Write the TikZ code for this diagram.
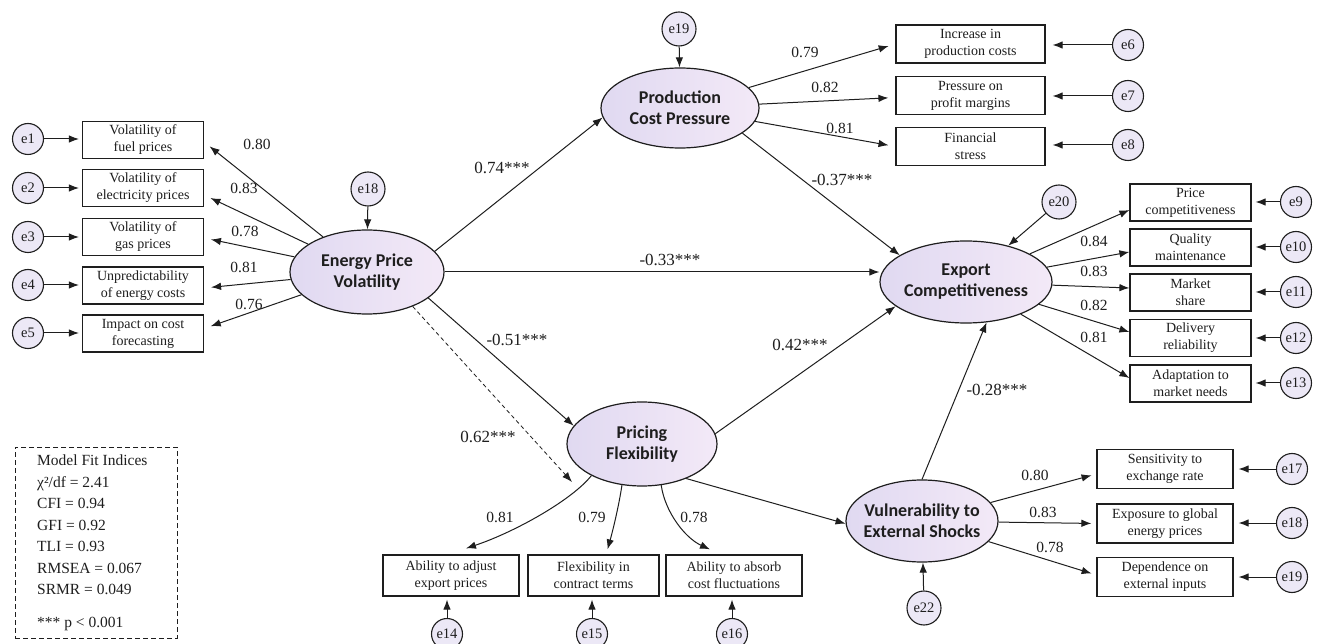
\documentclass[tikz,border=0pt]{standalone}
\usepackage{fontspec}
\setmainfont{Liberation Serif}
\newfontfamily\latfont{Carlito}
\usetikzlibrary{arrows.meta,shapes.geometric,calc}
\definecolor{lav}{RGB}{224,217,241}
\definecolor{lavR}{RGB}{243,233,247}
\definecolor{circfill}{RGB}{236,232,246}
\definecolor{ink}{RGB}{30,30,30}
\begin{document}
\begin{tikzpicture}[x=1pt,y=-1pt,
  ind/.style={draw=ink, line width=1.2pt, minimum width=121pt, minimum height=37pt, inner sep=0pt, align=center, text=ink, font=\fontsize{14}{17}\selectfont},
  err/.style={circle, draw=ink, line width=1.1pt, fill=circfill, minimum size=31pt, inner sep=0pt, text=ink, font=\fontsize{14.5}{16}\selectfont},
  latent/.style={ellipse, draw=ink, line width=1.2pt, left color=lav, right color=lavR, inner sep=0pt},
  lattext/.style={align=center, text=ink, font=\latfont\bfseries\fontsize{18}{21}\selectfont},
  arr/.style={-{Latex[length=10pt,width=7.5pt]}, line width=1pt, draw=ink},
  ld/.style={text=ink, font=\fontsize{15.5}{17}\selectfont},
  pc/.style={text=ink, font=\fontsize{17}{19}\selectfont},
]
\useasboundingbox[fill=white] (0,0) rectangle (1318,644);

% ---------- latent variables ----------
\node[latent, minimum width=154pt, minimum height=84pt] (EPV) at (367,272) {};
\node[lattext] (EPVt) at (EPV) {Energy Price\\Volatility};
\node[latent, minimum width=158pt, minimum height=80pt] (PCP) at (680,108) {};
\node[lattext] (PCPt) at (PCP) {Production\\Cost Pressure};
\node[latent, minimum width=172pt, minimum height=82pt] (EC) at (966,282) {};
\node[lattext] (ECt) at (EC) {Export\\Competitiveness};
\node[latent, minimum width=150pt, minimum height=84pt] (PF) at (642,444) {};
\node[lattext] (PFt) at (PF) {Pricing\\Flexibility};
\node[latent, minimum width=152pt, minimum height=82pt] (VES) at (922,521) {};
\node[lattext] (VESt) at (VES) {Vulnerability to\\External Shocks};

% ---------- structural residuals ----------
\node[err, minimum size=34pt] (z18) at (368,189) {e18};
\node[err, minimum size=34pt] (z19) at (679,29) {e19};
\node[err, minimum size=34pt] (z20) at (1059,202) {e20};
\node[err, minimum size=34pt] (z22) at (924,608) {e22};
\draw[arr] (z18) -- (EPV);
\draw[arr] (z19) -- (PCP);
\draw[arr] (z20) -- (EC);
\draw[arr] (z22) -- (VES);

% ---------- left indicators ----------
\node[ind] (b1) at (143,140) {Volatility of\\fuel prices};
\node[ind] (b2) at (143,188) {Volatility of\\electricity prices};
\node[ind] (b3) at (143,237) {Volatility of\\gas prices};
\node[ind] (b4) at (143,285.5) {Unpredictability\\of energy costs};
\node[ind] (b5) at (143,333.5) {Impact on cost\\forecasting};
\foreach \i/\y in {1/139,2/188,3/237,4/285,5/333}{
  \node[err] (e\i) at (28,\y) {e\i};
  \draw[arr, shorten >=3pt] (e\i) -- (e\i -| b\i.west);
}
\draw[arr, shorten >=7pt] (EPV) -- ($(b1.east)+(0,2)$);
\draw[arr, shorten >=7pt] (EPV) -- ($(b2.east)+(0,7)$);
\draw[arr, shorten >=7pt] (EPV) -- ($(b3.east)+(0,1)$);
\draw[arr, shorten >=7pt] (EPV) -- ($(b4.east)+(0,2.5)$);
\draw[arr, shorten >=7pt] (EPV) -- ($(b5.east)+(0,-5)$);
\node[ld] (l1) at (257,144) {0.80};
\node[ld] (l2) at (244,188) {0.83};
\node[ld] (l3) at (245,231) {0.78};
\node[ld] (l4) at (244,267) {0.81};
\node[ld] (l5) at (249,304) {0.76};

% ---------- production cost indicators ----------
\node[ind, minimum width=149pt, minimum height=38pt] (t1) at (970.5,44) {Increase in\\production costs};
\node[ind, minimum width=149pt, minimum height=38pt] (t2) at (970.5,95.5) {Pressure on\\profit margins};
\node[ind, minimum width=149pt, minimum height=38pt] (t3) at (970.5,146.5) {Financial\\stress};
\foreach \i/\y/\t in {6/45/t1,7/96/t2,8/145/t3}{
  \node[err] (e\i) at (1128,\y) {e\i};
  \draw[arr, shorten >=7pt] (e\i) -- (e\i -| \t.east);
}
\draw[arr, shorten >=7pt] (PCP) -- (t1.west);
\draw[arr, shorten >=7pt] (PCP) -- ($(t2.west)+(0,2)$);
\draw[arr, shorten >=7pt] (PCP) -- (t3.west);
\node[ld] (l6) at (805,52) {0.79};
\node[ld] (l7) at (825,87) {0.82};
\node[ld] (l8) at (840,128) {0.81};

% ---------- export competitiveness indicators ----------
\node[ind] (r1) at (1190.5,202.5) {Price\\competitiveness};
\node[ind] (r2) at (1190.5,247.5) {Quality\\maintenance};
\node[ind] (r3) at (1190.5,292.5) {Market\\share};
\node[ind] (r4) at (1190.5,338) {Delivery\\reliability};
\node[ind] (r5) at (1190.5,383.5) {Adaptation to\\market needs};
\foreach \i/\y/\t in {9/202/r1,10/247/r2,11/292/r3,12/338/r4,13/383/r5}{
  \node[err] (e\i) at (1296,\y) {e\i};
  \draw[arr, shorten >=4pt] (e\i) -- (e\i -| \t.east);
}
\draw[arr] (EC) -- ($(r1.west)+(0,7.5)$);
\draw[arr] (EC) -- ($(r2.west)+(0,4.5)$);
\draw[arr] (EC) -- ($(r3.west)+(0,-4.5)$);
\draw[arr] (EC) -- ($(r4.west)+(0,-6)$);
\draw[arr] (EC) -- ($(r5.west)+(0,-5.5)$);
\node[ld] (l9) at (1094,241) {0.84};
\node[ld] (l10) at (1094,271) {0.83};
\node[ld] (l11) at (1094,305) {0.82};
\node[ld] (l12) at (1094,337) {0.81};

% ---------- vulnerability indicators ----------
\node[ind, minimum width=136pt, minimum height=39pt] (v1) at (1165,469) {Sensitivity to\\exchange rate};
\node[ind, minimum width=136pt, minimum height=39pt] (v2) at (1165,523.5) {Exposure to global\\energy prices};
\node[ind, minimum width=136pt, minimum height=39pt] (v3) at (1165,577) {Dependence on\\external inputs};
\foreach \i/\y/\t in {17/469/v1,18/523/v2,19/577/v3}{
  \node[err] (e\i) at (1292,\y) {e\i};
  \draw[arr, shorten >=5pt] (e\i) -- (e\i -| \t.east);
}
\draw[arr, shorten >=5pt] (VES) -- ($(v1.west)+(0,5)$);
\draw[arr, shorten >=5pt] (VES) -- (v2.west);
\draw[arr, shorten >=5pt] (VES) -- ($(v3.west)+(0,-2)$);
\node[ld] (l17) at (1035,475) {0.80};
\node[ld] (l18) at (1043,512) {0.83};
\node[ld] (l19) at (1050,547) {0.78};

% ---------- pricing flexibility indicators ----------
\node[ind, minimum width=136pt, minimum height=41pt] (p1) at (451,575.5) {Ability to adjust\\export prices};
\node[ind, minimum width=131pt, minimum height=41pt] (p2) at (593.5,575.5) {Flexibility in\\contract terms};
\node[ind, minimum width=136pt, minimum height=41pt] (p3) at (734,575.5) {Ability to absorb\\cost fluctuations};
\node[err] (e14) at (447,634) {e14};
\node[err] (e15) at (592,634) {e15};
\node[err] (e16) at (732,634) {e16};
\draw[arr, shorten >=3pt] (e14) -- (e14 |- p1.south);
\draw[arr, shorten >=3pt] (e15) -- (e15 |- p2.south);
\draw[arr, shorten >=3pt] (e16) -- (e16 |- p3.south);
\draw[arr] (PF.212) .. controls (572,500) and (515,532) .. ($(p1.north)+(15,-6)$);
\draw[arr] (PF.244) .. controls (619,505) and (613,530) .. ($(p2.north)+(14,-5)$);
\draw[arr] (PF.295) .. controls (665,512) and (685,538) .. ($(p3.north)+(-24,-5)$);
\node[ld] (l14) at (500,517) {0.81};
\node[ld] (l15) at (592,517) {0.79};
\node[ld] (l16) at (694,517) {0.78};

% ---------- structural paths ----------
\draw[arr] (EPV.17) -- (PCP.187);
\node[pc] (c1) at (502,168) {0.74***};
\draw[arr] (PCP.-22) -- (EC.158);
\node[pc] (c2) at (842,180) {-0.37***};
\draw[arr] (EPV.east) -- (EPV.east -| EC.west);
\node[pc] (c3) at (670,260) {-0.33***};
\draw[arr] (EPV.-23) -- (PF.165);
\node[pc] (c4) at (517,340) {-0.51***};
\coordinate (dashEnd) at (572,482);
\draw[arr, dash pattern=on 4pt off 3pt, line width=0.8pt] (EPV.-37) -- (dashEnd);
\node[pc] (c5) at (488,437) {0.62***};
\draw[arr] (PF.8) -- (EC.199);
\node[pc] (c6) at (800,345) {0.42***};
\draw[arr] (PF.-38) -- (VES.182);
\draw[arr] (VES.north) -- (EC.-63);
\node[pc] (c7) at (997,390) {-0.28***};

% ---------- fit box ----------
\node[draw=ink, line width=1pt, dash pattern=on 5pt off 3pt, minimum width=162pt, minimum height=191pt, inner sep=0pt] (fitbox) at (96,542.5) {};
\node[anchor=north west, align=left, inner sep=0pt, text=ink, font=\fontsize{15.5}{21.5}\selectfont] (fittext) at (37,455) {Model Fit Indices\\χ²/df = 2.41\\CFI = 0.94\\GFI = 0.92\\TLI = 0.93\\RMSEA = 0.067\\SRMR = 0.049\\[11pt]*** p < 0.001};
\end{tikzpicture}
\end{document}
